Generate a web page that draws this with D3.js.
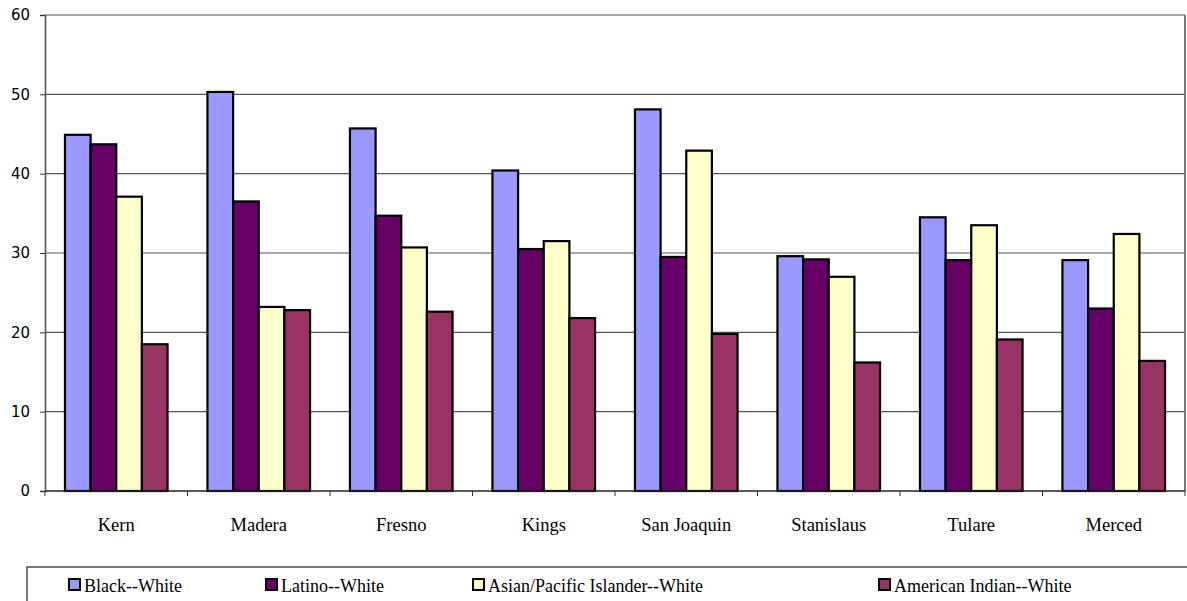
<!DOCTYPE html>
<html><head><meta charset="utf-8">
<script src="https://cdn.jsdelivr.net/npm/d3@7"></script>
<style>body{margin:0;background:#fff}svg{display:block}
svg text.lbl{font-family:"Liberation Serif",serif !important}
svg text.tk{font-family:"DejaVu Sans",sans-serif !important}
</style>
</head><body><svg id="c" width="1187" height="601" style="font-family:'Liberation Serif',serif"></svg>
<script>
const categories = ["Kern","Madera","Fresno","Kings","San Joaquin","Stanislaus","Tulare","Merced"];
const seriesNames = ["Black--White","Latino--White","Asian/Pacific Islander--White","American Indian--White"];
const blackWhite = [44.9,50.3,45.7,40.4,48.1,29.6,34.5,29.1];
const latinoWhite = [43.7,36.5,34.7,30.5,29.5,29.2,29.1,23.0];
const asianWhite = [37.1,23.2,30.7,31.5,42.9,27.0,33.5,32.4];
const indianWhite = [18.5,22.8,22.6,21.8,19.8,16.2,19.1,16.4];
const yTicks = [0,10,20,30,40,50,60];
const colors = ["#9999FF","#660066","#FFFFCC","#993366"];
const series = [blackWhite, latinoWhite, asianWhite, indianWhite];

const svg = d3.select("#c");
const L = 45, R = 1185, T = 15, B = 491;
const x = d3.scaleBand().domain(categories).range([L,R]).paddingInner(0.28).paddingOuter(0.14);
const xs = d3.scaleBand().domain(d3.range(4)).range([0,x.bandwidth()]);
const y = d3.scaleLinear().domain([0,60]).range([B,T]);

svg.append("g").selectAll("line").data(yTicks.filter(d=>d>0)).join("line")
  .attr("x1",L).attr("x2",R).attr("y1",d=>y(d)).attr("y2",d=>y(d))
  .attr("stroke","#555").attr("stroke-width",1.2);
svg.append("line").attr("x1",R).attr("x2",R).attr("y1",T).attr("y2",B).attr("stroke","#777").attr("stroke-width",2);

const g = svg.append("g");
series.forEach((s,i)=>{
  g.append("g").selectAll("rect").data(s).join("rect")
    .attr("x",(d,j)=>x(categories[j])+xs(i))
    .attr("width",xs.bandwidth())
    .attr("y",d=>y(d)).attr("height",d=>B-y(d))
    .attr("fill",colors[i]).attr("stroke","#000").attr("stroke-width",2.2);
});

const ya = svg.append("g").attr("transform",`translate(${L},0)`)
  .call(d3.axisLeft(y).tickValues(yTicks).tickSize(5).tickPadding(10));
ya.attr("font-family","DejaVu Sans").attr("font-size",15);
ya.select(".domain").attr("stroke","#555").attr("stroke-width",1.6);
ya.selectAll(".tick line").attr("stroke","#333");
ya.selectAll("text").attr("class","tk").attr("fill","#000");

const step = x.step();
const xa = svg.append("g").attr("transform",`translate(0,${B})`)
  .attr("font-family","Liberation Serif");
xa.append("line").attr("x1",L).attr("x2",R).attr("stroke","#222").attr("stroke-width",1.6);
xa.selectAll("line.t").data(d3.range(categories.length+1)).join("line").attr("class","t")
  .attr("x1",i=>L+i*step).attr("x2",i=>L+i*step).attr("y1",0).attr("y2",5).attr("stroke","#333");
xa.selectAll("text").data(categories).join("text").attr("class","lbl")
  .attr("x",d=>x(d)+x.bandwidth()/2).attr("y",40)
  .attr("text-anchor","middle").attr("font-size",18.5).text(d=>d);

const lg = svg.append("g").attr("font-family","Liberation Serif");
lg.append("rect").attr("x",27).attr("y",567).attr("width",1200).attr("height",50).attr("fill","none").attr("stroke","#333").attr("stroke-width",1.3);
const lx = [69,266,473,879];
seriesNames.forEach((n,i)=>{
  lg.append("rect").attr("x",lx[i]).attr("y",579).attr("width",11).attr("height",11)
    .attr("fill",colors[i]).attr("stroke","#000").attr("stroke-width",2);
  lg.append("text").attr("class","lbl").attr("x",lx[i]+15).attr("y",592)
    .attr("font-size",18).text(n);
});
</script></body></html>
